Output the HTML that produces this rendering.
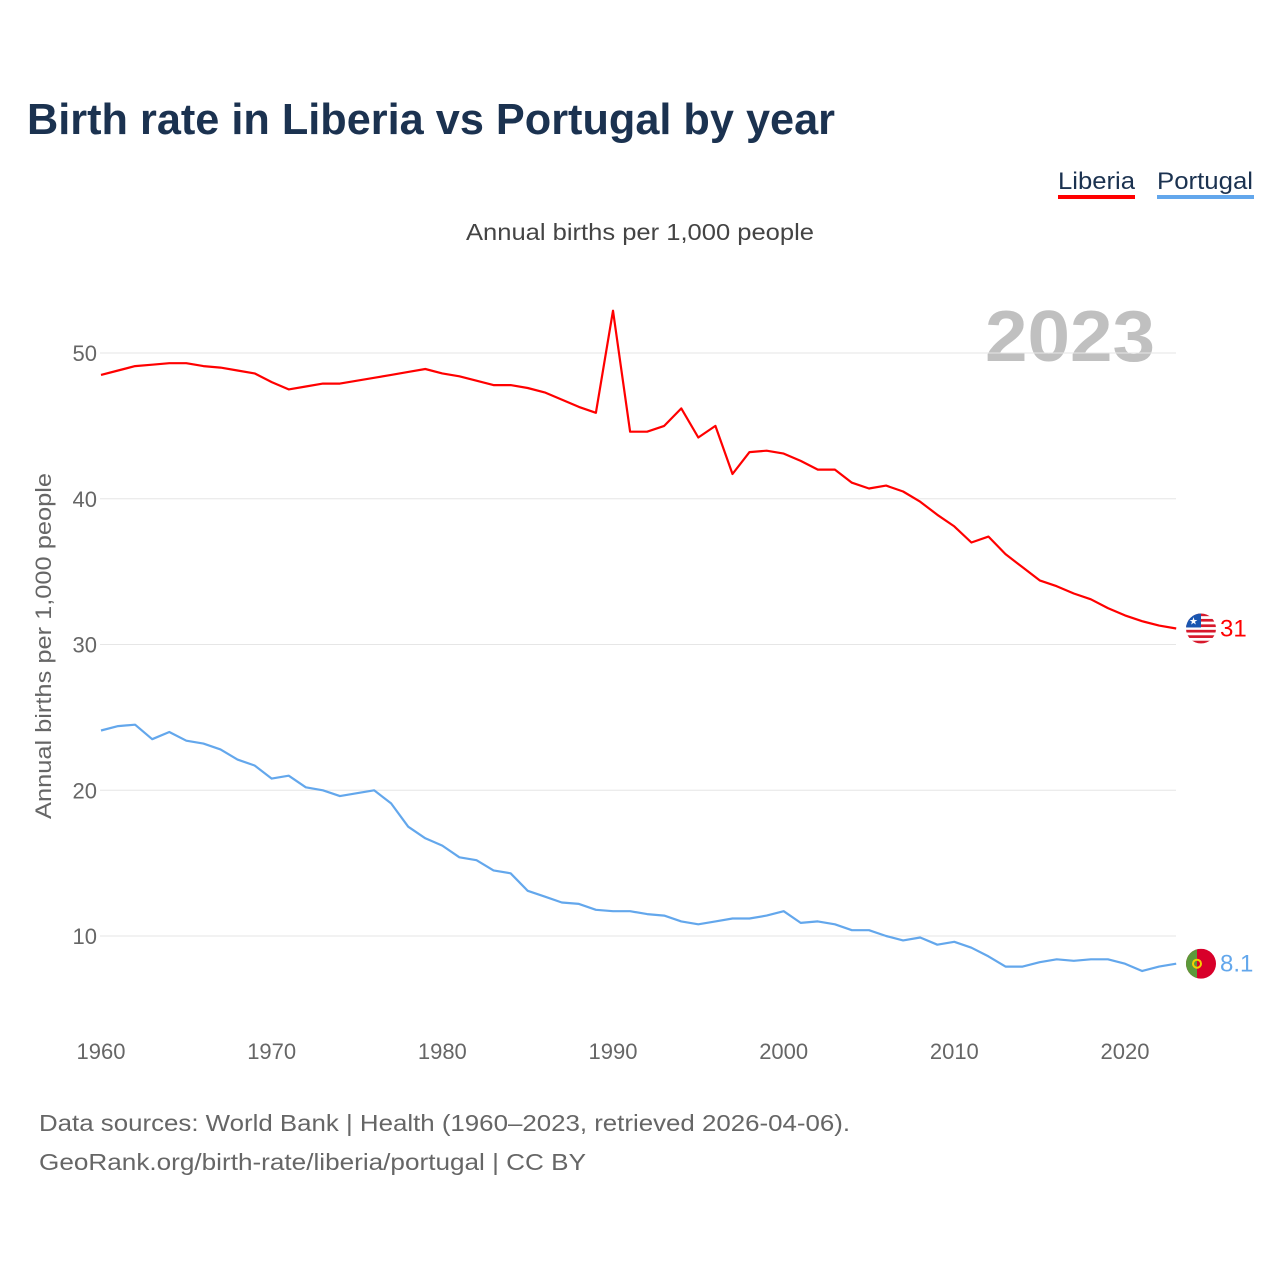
<!DOCTYPE html>
<html><head><meta charset="utf-8">
<style>
html,body{margin:0;padding:0;background:#fff;}
body{width:1280px;height:1280px;overflow:hidden;font-family:"Liberation Sans",sans-serif;}
</style></head>
<body>
<svg id="chart" width="1280" height="1280" viewBox="0 0 1280 1280" xmlns="http://www.w3.org/2000/svg" font-family="Liberation Sans, sans-serif">
<text x="27" y="134" font-size="44" font-weight="bold" fill="#1b3250" textLength="808" lengthAdjust="spacingAndGlyphs">Birth rate in Liberia vs Portugal by year</text>
<g>
<text x="1058" y="189" font-size="24" fill="#1b3250" textLength="77" lengthAdjust="spacingAndGlyphs">Liberia</text>
<rect x="1058" y="195" width="77" height="4" fill="#ff0000"/>
</g>
<g>
<text x="1157" y="189" font-size="24" fill="#1b3250" textLength="96" lengthAdjust="spacingAndGlyphs">Portugal</text>
<rect x="1157" y="195" width="97" height="4" fill="#63a7ec"/>
</g>
<text x="640" y="240" font-size="23" fill="#444" text-anchor="middle" textLength="348" lengthAdjust="spacingAndGlyphs">Annual births per 1,000 people</text>
<text x="985" y="361" font-size="72" font-weight="bold" fill="#c0c0c0" textLength="170" lengthAdjust="spacingAndGlyphs">2023</text>
<text transform="translate(51,646) rotate(-90)" font-size="22" fill="#666" text-anchor="middle" textLength="346" lengthAdjust="spacingAndGlyphs">Annual births per 1,000 people</text>
<g id="grid"></g><g id="yticks"></g><g id="xticks"></g><g id="series"></g><g id="endlabels"></g>
<text x="39" y="1131" font-size="23" fill="#666" textLength="811" lengthAdjust="spacingAndGlyphs">Data sources: World Bank | Health (1960–2023, retrieved 2026-04-06).</text>
<text x="39" y="1170" font-size="23" fill="#666" textLength="547" lengthAdjust="spacingAndGlyphs">GeoRank.org/birth-rate/liberia/portugal | CC BY</text>
</svg>
<script>
const years = [];
for (let y = 1960; y <= 2023; y++) years.push(y);
const liberia = [48.5,48.8,49.1,49.2,49.3,49.3,49.1,49.0,48.8,48.6,48.0,47.5,47.7,47.9,47.9,48.1,48.3,48.5,48.7,48.9,48.6,48.4,48.1,47.8,47.8,47.6,47.3,46.8,46.3,45.9,52.9,44.6,44.6,45.0,46.2,44.2,45.0,41.7,43.2,43.3,43.1,42.6,42.0,42.0,41.1,40.7,40.9,40.5,39.8,38.9,38.1,37.0,37.4,36.2,35.3,34.4,34.0,33.5,33.1,32.5,32.0,31.6,31.3,31.1];
const portugal = [24.1,24.4,24.5,23.5,24.0,23.4,23.2,22.8,22.1,21.7,20.8,21.0,20.2,20.0,19.6,19.8,20.0,19.1,17.5,16.7,16.2,15.4,15.2,14.5,14.3,13.1,12.7,12.3,12.2,11.8,11.7,11.7,11.5,11.4,11.0,10.8,11.0,11.2,11.2,11.4,11.7,10.9,11.0,10.8,10.4,10.4,10.0,9.7,9.9,9.4,9.6,9.2,8.6,7.9,7.9,8.2,8.4,8.3,8.4,8.4,8.1,7.6,7.9,8.1];
const yTicks = [10,20,30,40,50];
const xTicks = [1960,1970,1980,1990,2000,2010,2020];
const endLabels = ["31","8.1"];

const NS = "http://www.w3.org/2000/svg";
const xs = y => 101 + (y - 1960) * (1024 / 60);
const ys = v => 936 - (v - 10) * (583 / 40);
function mk(tag, attrs, parent){ const e=document.createElementNS(NS,tag); for(const k in attrs) e.setAttribute(k,attrs[k]); parent.appendChild(e); return e; }
const grid=document.getElementById('grid'), yt=document.getElementById('yticks'), xt=document.getElementById('xticks'), ser=document.getElementById('series'), el=document.getElementById('endlabels');
yTicks.forEach(v=>{
  const l=mk('line',{x1:100,x2:1176,y1:ys(v),y2:ys(v),stroke:'#e6e6e6','stroke-width':1},grid);
  
  
  const t=mk('text',{x:97,y:ys(v)+8,'font-size':22,fill:'#666','text-anchor':'end'},yt);
  t.textContent=v;
  
  
});
xTicks.forEach(v=>{
  const t=mk('text',{x:xs(v),y:1059,'font-size':22,fill:'#666','text-anchor':'middle'},xt);
  t.textContent=v;
  
  
});
function line(data,color,name){
  const d=data.map((v,i)=>(i?'L':'M')+xs(years[i]).toFixed(1)+','+ys(v).toFixed(1)).join('');
  const p=mk('path',{d:d,fill:'none',stroke:color,'stroke-width':2.2,'stroke-linejoin':'round'},ser);
  
  
}
line(liberia,'#ff0000','liberia-line');
line(portugal,'#63a7ec','portugal-line');

const lx=1201, ly=ys(liberia[liberia.length-1]);
const lg=mk('g',{},el);


const cl=mk('clipPath',{id:'cl'},lg);
mk('circle',{cx:lx,cy:ly,r:15},cl);
const lgc=mk('g',{'clip-path':'url(#cl)'},lg);
mk('rect',{x:lx-15,y:ly-15,width:30,height:30,fill:'#fff'},lgc);
for(let i=0;i<6;i++) mk('rect',{x:lx-15,y:ly-15+i*5.45,width:30,height:2.7,fill:'#d7192c'},lgc);
mk('rect',{x:lx-15,y:ly-15,width:15,height:14,fill:'#1a56b0'},lgc);
mk('text',{x:lx-7.5,y:ly-4,'font-size':10,fill:'#fff','text-anchor':'middle'},lgc).textContent='★';
const t1=mk('text',{x:1220,y:ly+8,'font-size':24,fill:'#ff0000'},el);
t1.textContent=endLabels[0];



const px=1201, py=ys(portugal[portugal.length-1]);
const pg=mk('g',{},el);


const cp=mk('clipPath',{id:'cp'},pg);
mk('circle',{cx:px,cy:py,r:15},cp);
const pgc=mk('g',{'clip-path':'url(#cp)'},pg);
mk('rect',{x:px-15,y:py-15,width:30,height:30,fill:'#d8002a'},pgc);
mk('rect',{x:px-15,y:py-15,width:11,height:30,fill:'#5b9a3a'},pgc);
mk('circle',{cx:px-4,cy:py,r:4,fill:'none',stroke:'#f5d000','stroke-width':2},pgc);
const t2=mk('text',{x:1220,y:py+8,'font-size':24,fill:'#63a7ec'},el);
t2.textContent=endLabels[1];


</script>
</body></html>
